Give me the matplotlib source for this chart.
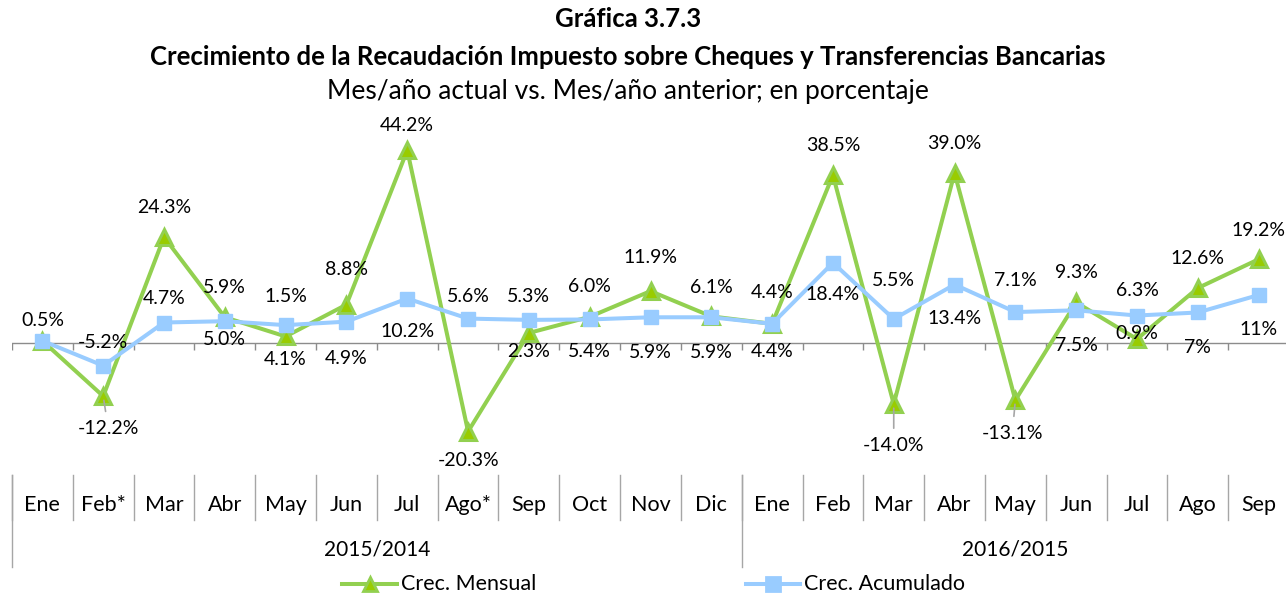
# -*- coding: utf-8 -*-
## Crecimiento de la recaudación del IETU / cheques y transferencias
import matplotlib
matplotlib.use("Agg")
import matplotlib.pyplot as plt
from matplotlib.lines import Line2D
from matplotlib.transforms import blended_transform_factory

plt.rcParams['font.family'] = ['Lato', 'DejaVu Sans']

# meses y periodos del eje de categorías
meses = ["Ene", "Feb*", "Mar", "Abr", "May", "Jun", "Jul", "Ago*", "Sep", "Oct", "Nov", "Dic",
         "Ene", "Feb", "Mar", "Abr", "May", "Jun", "Jul", "Ago", "Sep"]
periodos = ["2015/2014", "2016/2015"]
meses_por_periodo = [12, 9]

# crecimiento en porcentaje
crec_mensual = [0.5, -12.2, 24.3, 5.9, 1.5, 8.8, 44.2, -20.3, 2.3, 6.0, 11.9, 6.1,
                4.4, 38.5, -14.0, 39.0, -13.1, 9.3, 0.9, 12.6, 19.2]
crec_acumulado = [0.5, -5.2, 4.7, 5.0, 4.1, 4.9, 10.2, 5.6, 5.3, 5.4, 5.9, 5.9,
                  4.4, 18.4, 5.5, 13.4, 7.1, 7.5, 6.3, 7.0, 11.0]
# decimales de cada etiqueta
dec_mensual = [1] * 21
dec_acumulado = [1] * 19 + [0, 0]

# desplazamiento de las etiquetas (pixeles, x derecha / y abajo)
off_mensual = [(0, -20), (5, 32), (0, -30), (0, -30), (0, -40), (0, -35), (0, -25), (0, 29),
               (0, 19), (0, -30), (0, -34), (0, -29), (0, -31), (0, -30), (0, 41), (0, -29),
               (-3, 33), (0, -30), (0, -6), (0, -30), (0, -29)]
off_acumulado = [None, (0, -23), (0, -24), (0, 18), (0, 34), (0, 37), (0, 33), (0, -22),
                 (0, -23), (0, 32), (0, 35), (0, 35), (0, 28), (0, 32), (0, -39), (0, 34),
                 (0, -32), (0, 35), (0, -25), (0, 35), (0, 34)]
con_guia = [1, 14, 16]   # etiquetas con línea guía

VERDE = "#92D050"
AZUL = "#99CCFF"
GRIS = "#A6A6A6"
FS_ETIQ = 14
FS_EJE = 15.5

W, H = 1286, 595
fig = plt.figure(figsize=(W / 100, H / 100), dpi=100)


def fy(py):
    return 1 - py / H


# área de trazado: x de 12 a 1289 px, y de 110 a 474 px (cero en 343 px)
escala = 4.36
top, bot, cero = 110, 474, 343
ax = fig.add_axes([12 / W, fy(bot), (1289 - 12) / W, (bot - top) / H])
ax.set_xlim(-0.5, len(meses) - 0.5)
ax.set_ylim(-(bot - cero) / escala, (cero - top) / escala)
ax.axis("off")

x = list(range(len(meses)))

# línea del cero con marcas
ax.axhline(0, color="#8C8C8C", lw=1.0, zorder=1)
bordes = [i - 0.5 for i in range(len(meses) + 1)]
ax.vlines(bordes, -7 / escala, 0, color="#8C8C8C", lw=1.0, zorder=1)

ax.plot(x, crec_mensual, color=VERDE, lw=2.9, marker="^", ms=11.5,
        mfc="#99CC00", mec=VERDE, mew=2.2, zorder=3)
ax.plot(x, crec_acumulado, color=AZUL, lw=2.9, marker="s", ms=10.5,
        mfc=AZUL, mec=AZUL, mew=1, zorder=4)


def etiquetas(vals, decs, offs, guias):
    for i, (v, d, o) in enumerate(zip(vals, decs, offs)):
        if o is None:
            continue
        txt = f"{v:.{d}f}%"
        props = None
        if i in guias:
            props = dict(arrowstyle="-", color=GRIS, lw=1.2, shrinkA=4, shrinkB=3)
        ax.annotate(txt, (i, v), xytext=(o[0], -o[1]), textcoords="offset pixels",
                    ha="center", va="center", fontsize=FS_ETIQ, color="black",
                    arrowprops=props, zorder=5)


etiquetas(crec_mensual, dec_mensual, off_mensual, con_guia)
etiquetas(crec_acumulado, dec_acumulado, off_acumulado, [])

# eje de categorías en dos niveles
tr = blended_transform_factory(ax.transData, fig.transFigure)
for b in bordes[:-1]:
    ax.plot([b, b], [fy(475), fy(520)], color=GRIS, lw=1.0, transform=tr, clip_on=False)
ini = 0
for n in meses_por_periodo:
    b = ini - 0.5
    ax.plot([b, b], [fy(475), fy(567)], color=GRIS, lw=1.0, transform=tr, clip_on=False)
    ini += n
for i, m in enumerate(meses):
    ax.text(i, fy(505), m, ha="center", va="center", fontsize=FS_EJE, transform=tr)
ini = 0
for p, n in zip(periodos, meses_por_periodo):
    ax.text(ini + (n - 1) / 2, fy(550), p, ha="center", va="center", fontsize=15,
            transform=tr)
    ini += n

# leyenda
def entrada(x0, x1, color, marker, mfc, ms, texto):
    xm = (x0 + x1) / 2
    fig.add_artist(Line2D([x0 / W, xm / W, x1 / W], [fy(584)] * 3, color=color, lw=2.9,
                          marker=marker, markevery=[1], ms=ms, mfc=mfc, mec=color, mew=2))
    fig.text((x1 + 4) / W, fy(584), texto, ha="left", va="center", fontsize=FS_EJE)


entrada(342, 397, VERDE, "^", "#99CC00", 10.5, "Crec. Mensual")
entrada(746, 800, AZUL, "s", AZUL, 10, "Crec. Acumulado")

# títulos
fig.text(628 / W, fy(19), "Gráfica 3.7.3", ha="center", va="center",
         fontsize=18.5, fontweight="bold")
fig.text(628 / W, fy(57),
         "Crecimiento de la Recaudación Impuesto sobre Cheques y Transferencias Bancarias",
         ha="center", va="center", fontsize=18.5, fontweight="bold")
fig.text(628 / W, fy(91), "Mes/año actual vs. Mes/año anterior; en porcentaje",
         ha="center", va="center", fontsize=19)

fig.savefig("out.png", dpi=100)
